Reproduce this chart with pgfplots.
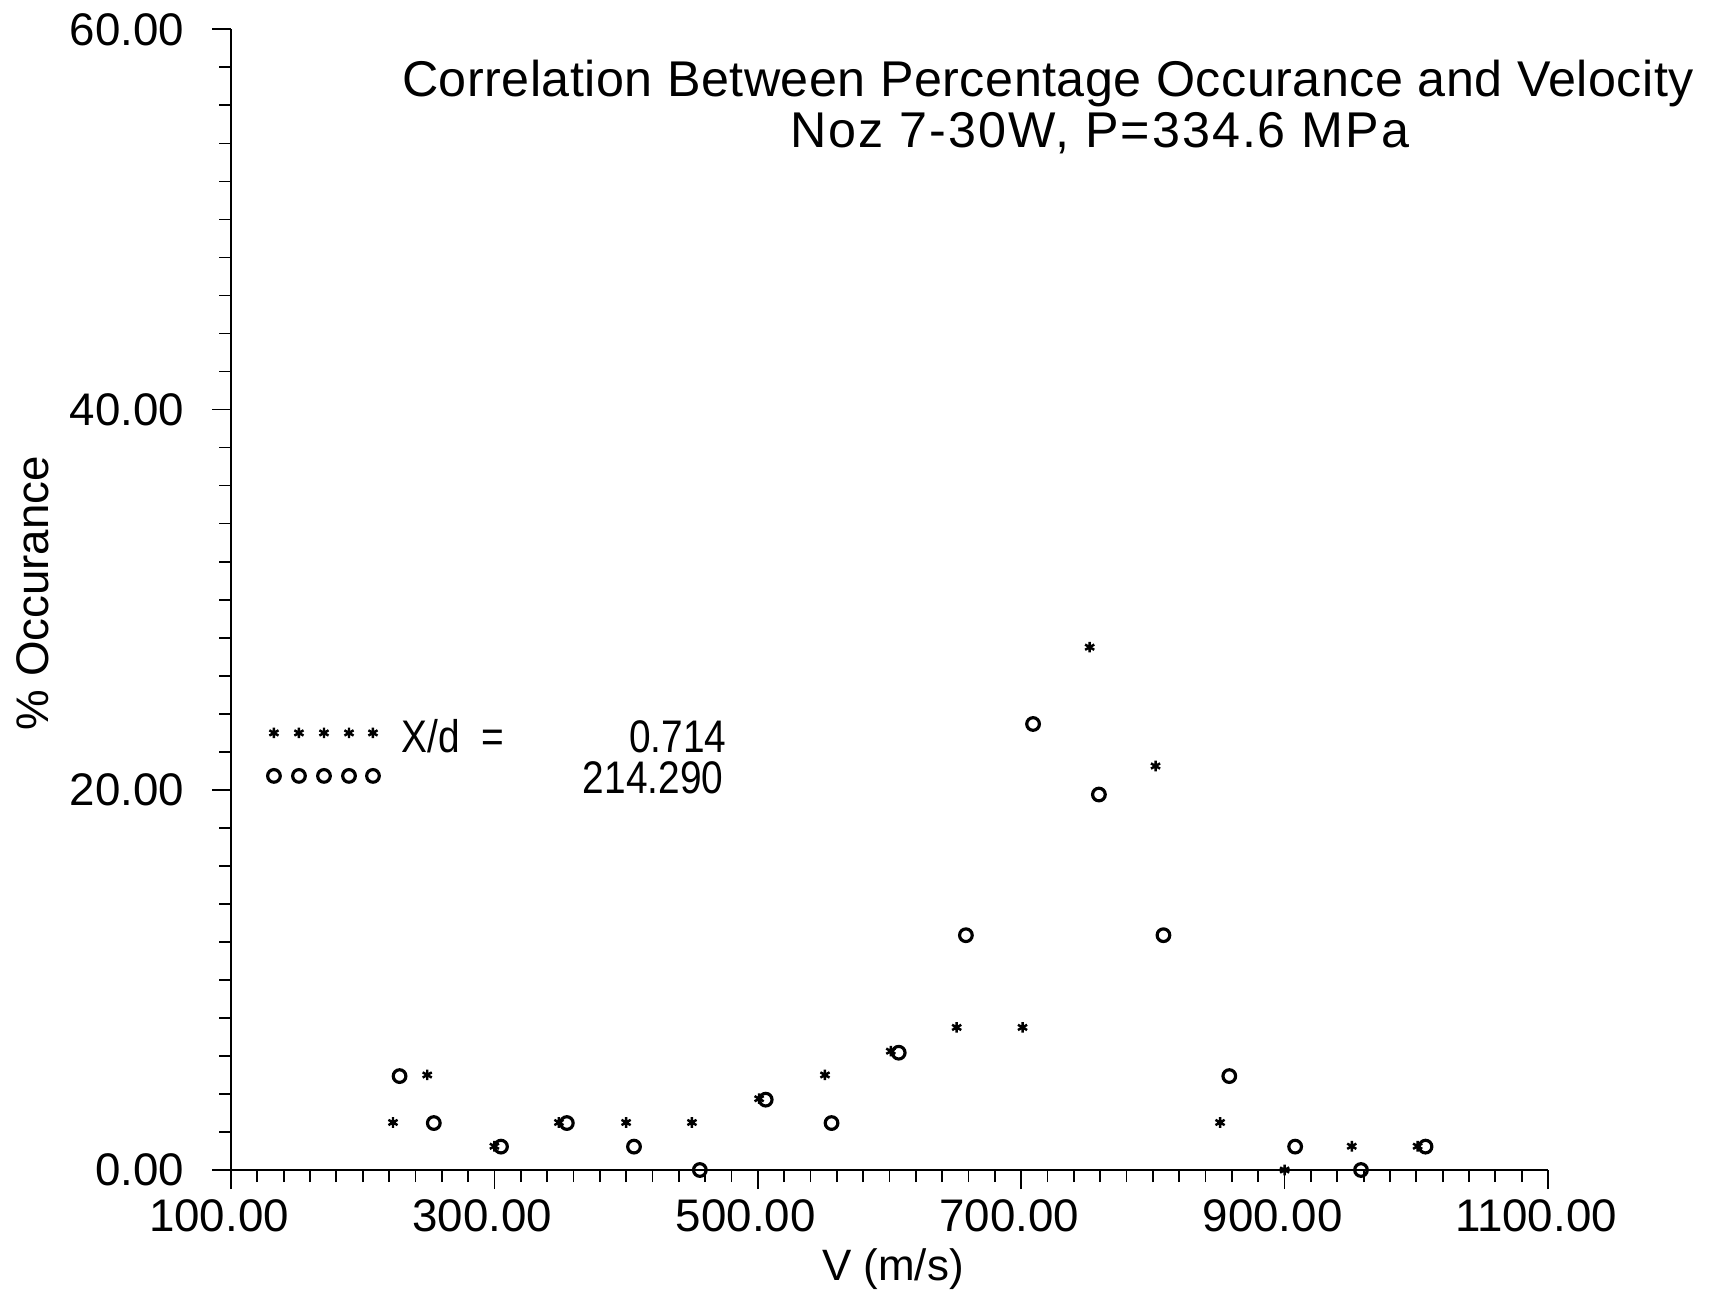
\documentclass[border=0pt]{standalone}
\usepackage{fontspec}
\setmainfont{Liberation Sans}
\newfontfamily\cond{Liberation Sans}[FakeStretch=0.85]
\newfontfamily\titlefont{Liberation Sans}[LetterSpace=1]
\newfontfamily\subtitlefont{Liberation Sans}[LetterSpace=4]
\usepackage{pgfplots}
\pgfplotsset{compat=1.18}
\begin{document}
\begin{tikzpicture}[x=1mm,y=1mm]
\useasboundingbox (-23.1,-12.0) rectangle (149.0,117.0);
\begin{axis}[
  at={(0,0)}, anchor=south west,
  scale only axis, width=131.7mm, height=114.07mm,
  xmin=100, xmax=1100, ymin=0, ymax=60,
  axis lines=left, axis line style={-, line width=0.5pt},
  xtick={100,300,...,1100}, minor x tick num=9,
  ytick={0,20,40,60}, minor y tick num=9,
  tick align=outside, major tick length=1.9mm, minor tick length=1.2mm,
  every tick/.style={line width=0.5pt, black},
  /pgf/number format/.cd, fixed, fixed zerofill, precision=2, 1000 sep={}, assume math mode=true,
  /pgfplots/.cd,
  xticklabel style={font=\fontsize{13}{15}\selectfont, anchor=north, inner sep=0pt, yshift=-1.0mm, xshift=-1.2mm},
  yticklabel style={font=\fontsize{13}{15}\selectfont, anchor=east, inner sep=0pt, xshift=-2.7mm},
  clip=false,
]
% X/d = 0.714 (stars)
\addplot[only marks, mark=asterisk, mark size=1.5pt, line width=0.7pt, black] coordinates {
  (223,2.50) (249,5.00) (300,1.25) (349,2.50) (400,2.50) (450,2.50) (501,3.75) (551,5.00)
  (601,6.25) (651,7.50) (701,7.50) (752,27.50) (802,21.25) (851,2.50) (900,0.00) (951,1.25) (1001,1.25)
};
% 214.290 (circles)
\addplot[only marks, mark=o, mark size=1.8pt, line width=0.9pt, black] coordinates {
  (228,4.94) (254,2.47) (305,1.23) (355,2.47) (406,1.23) (456,0.00) (506,3.70) (556,2.47)
  (607,6.17) (658,12.35) (709,23.46) (759,19.75) (808,12.35) (858,4.94) (908,1.23) (958,0.00) (1007,1.23)
};
% legend markers
\addplot[only marks, mark=asterisk, mark size=1.5pt, line width=0.7pt, black] coordinates {
  (132.6,22.99) (151.6,22.99) (170.6,22.99) (189.6,22.99) (207.8,22.99)
};
\addplot[only marks, mark=o, mark size=1.8pt, line width=0.9pt, black] coordinates {
  (132.6,20.73) (151.6,20.73) (170.6,20.73) (189.6,20.73) (207.8,20.73)
};
\end{axis}
\node[anchor=base, font=\titlefont\fontsize{14.3}{16}\selectfont] at (81.7,107.3) {Correlation Between Percentage Occurance and Velocity};
\node[anchor=base, font=\subtitlefont\fontsize{14.3}{16}\selectfont] at (86.9,102.2) {Noz 7-30W, P=334.6 MPa};
\node[rotate=90, font=\fontsize{13}{15}\selectfont] at (-19.8,57.7) {\% Occurance};
\node[anchor=base, inner sep=0pt, font=\fontsize{12.5}{15}\selectfont] at (66.2,-11.05) {V (m/s)};
\node[anchor=base west, inner sep=0pt, font=\cond\fontsize{13}{15}\selectfont] at (17.0,41.8) {X/d\hspace{2.2mm}=};
\node[anchor=base east, inner sep=0pt, font=\cond\fontsize{13}{15}\selectfont] at (49.6,41.8) {0.714};
\node[anchor=base east, inner sep=0pt, font=\cond\fontsize{13}{15}\selectfont] at (49.3,37.65) {214.290};
\end{tikzpicture}
\end{document}
